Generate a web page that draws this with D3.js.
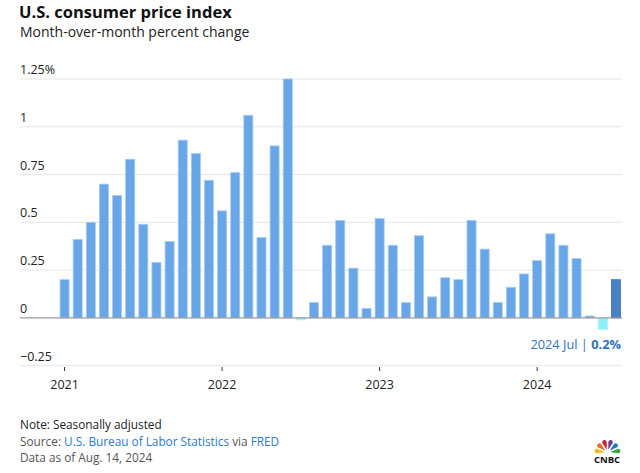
<!DOCTYPE html>
<html>
<head>
<meta charset="utf-8">
<script src="https://cdn.jsdelivr.net/npm/d3@7"></script>
<style>
  body { margin: 0; background: #fff; }
  svg { display: block; font-family: "Open Sans", Lato, sans-serif; }
</style>
</head>
<body>
<svg width="640" height="473"></svg>
<script>
// Monthly CPI change, Jan 2021 .. Jul 2024 (percent)
const months = d3.range(43).map(i => new Date(2021, i, 1));
const values2021 = [0.20, 0.41, 0.50, 0.70, 0.64, 0.83, 0.49, 0.29, 0.40, 0.93, 0.86, 0.72];
const values2022 = [0.56, 0.76, 1.06, 0.42, 0.90, 1.25, -0.01, 0.08, 0.38, 0.51, 0.26, 0.05];
const values2023 = [0.52, 0.38, 0.08, 0.43, 0.11, 0.21, 0.20, 0.51, 0.36, 0.08, 0.16, 0.23];
const values2024 = [0.30, 0.44, 0.38, 0.31, 0.01, -0.06, 0.20];
const values = [...values2021, ...values2022, ...values2023, ...values2024];

const yTicks = [-0.25, 0, 0.25, 0.5, 0.75, 1, 1.25];
const yearTicks = [2021, 2022, 2023, 2024];

const data = months.map((d, i) => ({ date: d, value: values[i] }));

const svg = d3.select("svg");

// title block
svg.append("text")
    .attr("x", 19).attr("y", 17.5)
    .attr("font-size", 16.5).attr("font-weight", "bold").attr("fill", "#111")
    .text("U.S. consumer price index");
svg.append("text")
    .attr("x", 20).attr("y", 37)
    .attr("font-size", 14).attr("fill", "#222")
    .text("Month-over-month percent change");

// scales
const x = d3.scaleBand()
    .domain(data.map(d => d.date))
    .range([58, 622.5])
    .paddingInner(0.31)
    .paddingOuter(0.155);

const y = d3.scaleLinear()
    .domain([-0.25, 1.25])
    .range([365.7, 79]);

// grid + labels
const grid = svg.append("g");
grid.selectAll("line")
    .data(yTicks.filter(t => t !== 0))
    .join("line")
    .attr("x1", 20).attr("x2", 622)
    .attr("y1", d => y(d)).attr("y2", d => y(d))
    .attr("stroke", "#e6e6e6").attr("stroke-width", 1);

grid.selectAll("text")
    .data(yTicks)
    .join("text")
    .attr("x", 20)
    .attr("y", d => y(d) - 5)
    .attr("font-size", 12.5).attr("fill", "#222")
    .text(d => {
        let s = d < 0 ? "\u2212" + Math.abs(d) : String(d);
        return d === 1.25 ? s + "%" : s;
    });

// bars
const last = data.length - 1;
svg.append("g").selectAll("rect")
    .data(data)
    .join("rect")
    .attr("x", d => x(d.date))
    .attr("width", x.bandwidth())
    .attr("y", d => y(Math.max(0, d.value)))
    .attr("height", d => Math.abs(y(d.value) - y(0)))
    .attr("fill", (d, i) => i === last ? "#4a80c6" : d.value < 0 ? "#8eeefa" : "#69a6e7")
    .attr("stroke", (d, i) => i === last ? "#3d6fae" : d.value < 0 ? "#a9f3fb" : "#a3cbf2")
    .attr("stroke-width", 0.8);

// zero line
svg.append("line")
    .attr("x1", 20).attr("x2", 622)
    .attr("y1", y(0)).attr("y2", y(0))
    .attr("stroke", "#9a9a9a").attr("stroke-width", 1.2);

// year axis
const yearData = yearTicks.map(yr => new Date(yr, 0, 1));
const xa = svg.append("g");
xa.selectAll("line")
    .data(yearData)
    .join("line")
    .attr("x1", d => x(d) + x.bandwidth() / 2)
    .attr("x2", d => x(d) + x.bandwidth() / 2)
    .attr("y1", 367).attr("y2", 371)
    .attr("stroke", "#333").attr("stroke-width", 1);
xa.selectAll("text")
    .data(yearData)
    .join("text")
    .attr("x", d => x(d) + x.bandwidth() / 2)
    .attr("y", 389)
    .attr("text-anchor", "middle")
    .attr("font-size", 12.5).attr("fill", "#222")
    .text(d => d.getFullYear());

// latest value annotation
const ann = svg.append("text")
    .attr("x", 621).attr("y", 349)
    .attr("text-anchor", "end")
    .attr("font-size", 12.8).attr("fill", "#2f72c0");
ann.append("tspan").text("2024 Jul | ");
ann.append("tspan").attr("font-weight", "bold").text(d3.format(".1f")(values[last]) + "%");

// footer
svg.append("text")
    .attr("x", 20).attr("y", 428.5)
    .attr("font-size", 11.8).attr("fill", "#222")
    .text("Note: Seasonally adjusted");
const src = svg.append("text")
    .attr("x", 20).attr("y", 445.5)
    .attr("font-size", 11.8).attr("fill", "#555");
src.append("tspan").text("Source: ");
src.append("tspan").attr("fill", "#2a7ad2").text("U.S. Bureau of Labor Statistics");
src.append("tspan").text(" via ");
src.append("tspan").attr("fill", "#2a7ad2").text("FRED");
svg.append("text")
    .attr("x", 20).attr("y", 462)
    .attr("font-size", 11.8).attr("fill", "#555")
    .text("Data as of Aug. 14, 2024");

// CNBC peacock
const logo = svg.append("g").attr("transform", "translate(607.5,452.5)");
const feathers = ["#f5b71c", "#ef6b22", "#d7202f", "#6a3e98", "#1e7dc1", "#3aa547"];
const arc = d3.arc().innerRadius(3).outerRadius(13).padAngle(0.12).cornerRadius(3);
const pie = d3.pie().startAngle(-Math.PI / 2 - 0.15).endAngle(Math.PI / 2 + 0.15).sort(null)(feathers.map(() => 1));
logo.selectAll("path")
    .data(pie)
    .join("path")
    .attr("d", arc)
    .attr("fill", (d, i) => feathers[i]);
svg.append("text")
    .attr("x", 607).attr("y", 462.5)
    .attr("text-anchor", "middle")
    .attr("font-size", 9.5).attr("font-weight", "bold").attr("fill", "#111")
    .text("CNBC");
</script>
</body>
</html>
